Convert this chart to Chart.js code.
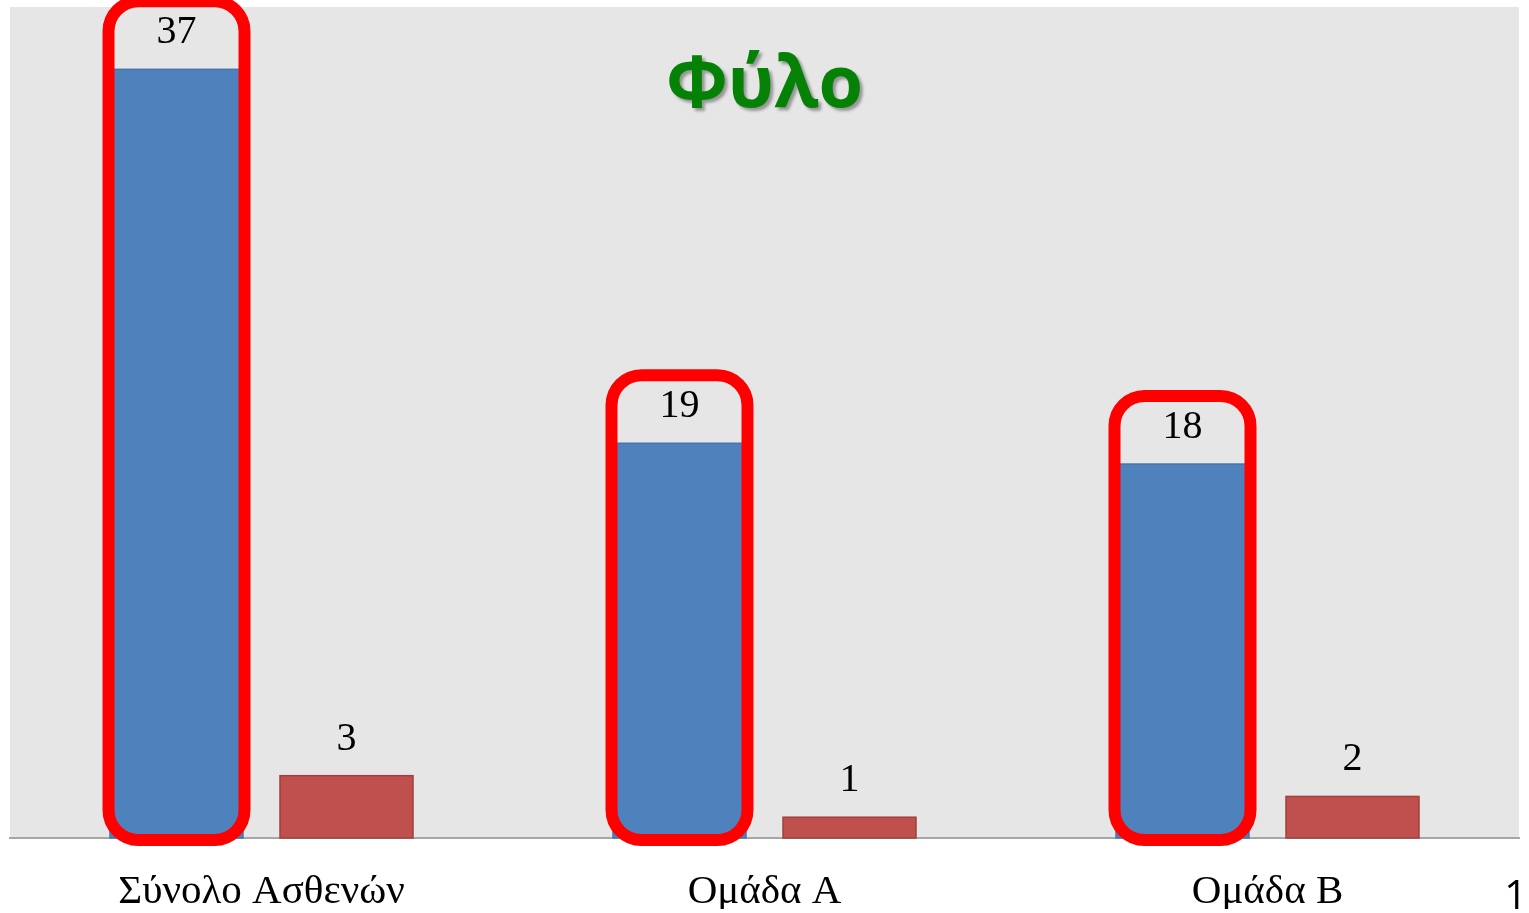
<!DOCTYPE html>
<html lang="el">
<head>
    <meta charset="UTF-8">
    <title>Φύλο</title>
    <script src="https://cdn.jsdelivr.net/npm/chart.js"></script>
    <style>
        body { margin: 0; background: #fff; }
        .wrap { position: relative; width: 1529px; height: 913px; }
        .slide-no { position: absolute; right: 2px; top: 866px; font: 40px "Open Sans", sans-serif; color: #000; }
    </style>
</head>
<body>
    <div class="wrap">
        <canvas id="sexChart"></canvas>
        <div class="slide-no">1</div>
    </div>

    <script>
        const categories = ['Σύνολο Ασθενών', 'Ομάδα Α', 'Ομάδα Β'];
        const menValues = [37, 19, 18];
        const womenValues = [3, 1, 2];
        const highlighted = [0]; // dataset index that gets the red frames

        const GAP = 18.5; // transparent side border -> space between bars

        // grey plot background
        const plotBg = {
            id: 'plotBg',
            beforeDraw(chart) {
                const a = chart.chartArea, ctx = chart.ctx;
                ctx.save();
                ctx.fillStyle = '#e6e6e6';
                ctx.fillRect(a.left, a.top, a.right - a.left, a.bottom - a.top);
                ctx.restore();
            }
        };

        // outlines, value labels, red frames, title
        const decorations = {
            id: 'decorations',
            afterDatasetsDraw(chart) {
                const ctx = chart.ctx;
                const outlines = ['#4675ad', '#a0403d'];
                ctx.save();
                chart.data.datasets.forEach((ds, di) => {
                    chart.getDatasetMeta(di).data.forEach((bar, i) => {
                        const p = bar.getProps(['x', 'y', 'base', 'width'], true);
                        const left = p.x - p.width / 2 + GAP, right = p.x + p.width / 2 - GAP;
                        ctx.strokeStyle = outlines[di];
                        ctx.lineWidth = 1.5;
                        ctx.strokeRect(left, p.y, right - left, p.base - p.y);

                        ctx.fillStyle = '#000';
                        ctx.font = '40px "Liberation Serif", serif';
                        ctx.textAlign = 'center';
                        ctx.textBaseline = 'alphabetic';
                        ctx.fillText(ds.data[i], p.x, p.y - 26);

                        if (highlighted.includes(di)) {
                            const bx = p.x - 68, bw = 136;
                            const by = p.y - 68, bh = p.base + 2 - by;
                            ctx.strokeStyle = '#ff0000';
                            ctx.lineWidth = 12;
                            ctx.beginPath();
                            ctx.roundRect(bx, by, bw, bh, 30);
                            ctx.stroke();
                        }
                    });
                });

                const a = chart.chartArea;
                ctx.font = 'bold 72px "Open Sans", sans-serif';
                ctx.fillStyle = '#058205';
                ctx.textAlign = 'center';
                ctx.textBaseline = 'middle';
                ctx.shadowColor = 'rgba(0,0,0,0.35)';
                ctx.shadowOffsetX = 3;
                ctx.shadowOffsetY = 3;
                ctx.shadowBlur = 3;
                ctx.fillText('Φύλο', (a.left + a.right) / 2, 86);
                ctx.restore();
            }
        };

        const ctx = document.getElementById('sexChart').getContext('2d');
        const sexChart = new Chart(ctx, {
            type: 'bar',
            data: {
                labels: categories,
                datasets: [
                    {
                        label: 'Άνδρες',
                        data: menValues,
                        backgroundColor: '#4f81bd',
                        borderColor: 'rgba(0,0,0,0)',
                        borderWidth: { left: GAP, right: GAP, top: 0, bottom: 0 },
                        borderSkipped: false
                    },
                    {
                        label: 'Γυναίκες',
                        data: womenValues,
                        backgroundColor: '#c0504d',
                        borderColor: 'rgba(0,0,0,0)',
                        borderWidth: { left: GAP, right: GAP, top: 0, bottom: 0 },
                        borderSkipped: false
                    }
                ]
            },
            options: {
                responsive: true,
                maintainAspectRatio: false,
                animation: false,
                layout: { padding: { left: 10, right: 10, top: 7, bottom: 4 } },
                categoryPercentage: 340 / 503,
                barPercentage: 1,
                plugins: {
                    legend: { display: false },
                    tooltip: { enabled: false }
                },
                scales: {
                    x: {
                        grid: { display: false, drawTicks: false },
                        border: { display: true, color: '#a6a6a6', width: 2 },
                        ticks: {
                            color: '#000',
                            padding: 30,
                            font: { family: '"Liberation Serif", serif', size: 41 }
                        },
                        afterFit(scale) { scale.height = 71; }
                    },
                    y: {
                        display: false,
                        min: 0,
                        max: 40
                    }
                }
            },
            plugins: [plotBg, decorations]
        });
    </script>
</body>
</html>
